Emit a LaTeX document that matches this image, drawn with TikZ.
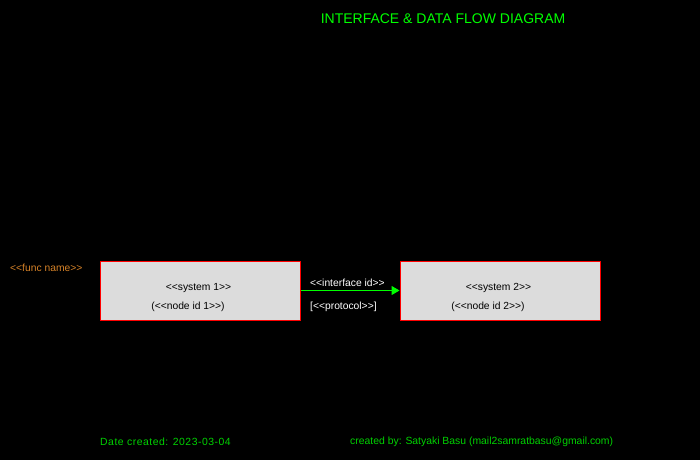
\documentclass[tikz,border=0pt]{standalone}
\usepackage{fontspec}
\setmainfont{Liberation Sans}
\usetikzlibrary{arrows.meta, positioning}
\definecolor{titlegreen}{RGB}{0, 255, 0}
\definecolor{footgreen}{RGB}{0, 210, 0}
\definecolor{funcorange}{RGB}{214, 130, 40}
\definecolor{boxgray}{RGB}{220, 220, 220}

\begin{document}
\begin{tikzpicture}[
  x=1pt, y=-1pt,
  sysbox/.style={draw=red, line width=1pt, fill=boxgray, minimum width=200pt, minimum height=59pt, inner sep=0pt},
  boxtext/.style={font=\fontsize{10.3}{12}\selectfont, text=black, inner sep=0pt},
  lbltext/.style={font=\fontsize{10.3}{12}\selectfont, text=white, inner sep=0pt, anchor=west},
  foottext/.style={font=\fontsize{10.4}{12}\selectfont, text=footgreen, inner sep=0pt, anchor=west},
  flow/.style={draw=titlegreen, line width=1pt, -{Triangle[length=8pt, width=9pt]}}
]
  \fill[black] (0,0) rectangle (700,460);
  \useasboundingbox (0,0) rectangle (700,460);

  \node[font=\fontsize{14}{16}\selectfont, text=titlegreen, inner sep=0pt] (title) at (443, 18.5) {INTERFACE \& DATA FLOW DIAGRAM};

  \node[lbltext, text=funcorange] (func) at (10, 268) {<{}<func name>{}>};

  \node[sysbox] (sys1) at (200, 290.5) {};
  \node[boxtext] (sys1name) at (198.5, 288) {<{}<system 1>{}>};
  \node[boxtext] (sys1id) at (188, 307) {(<{}<node id 1>{}>)};

  \node[sysbox] (sys2) at (500, 290.5) {};
  \node[boxtext] (sys2name) at (498.5, 288) {<{}<system 2>{}>};
  \node[boxtext] (sys2id) at (488, 307) {(<{}<node id 2>{}>)};

  \draw[flow] (sys1) -- (sys2);
  \node[lbltext] (iface) at (310, 283) {<{}<interface id>{}>};
  \node[lbltext] (proto) at (310, 307) {[<{}<protocol>{}>]};

  \node[foottext] (date) at (100, 442) {\addfontfeature{LetterSpace=5}Date created: 2023-03-04};
  \node[foottext] (author) at (350, 442) {created by: Satyaki Basu (mail2samratbasu@gmail.com)};
\end{tikzpicture}
\end{document}
